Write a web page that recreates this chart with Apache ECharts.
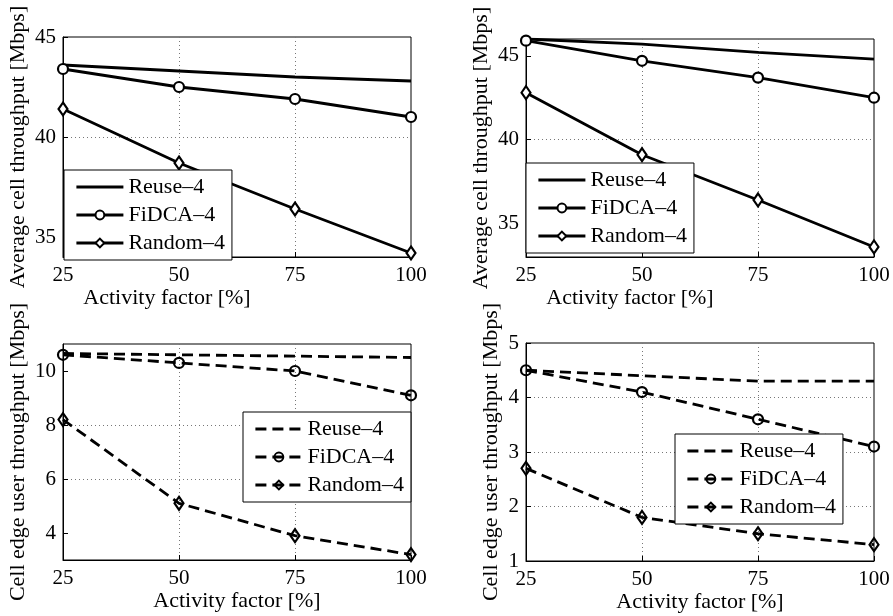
<!DOCTYPE html>
<html lang="en">
<head>
<meta charset="UTF-8">
<title>Activity factor</title>
<script src="https://cdn.jsdelivr.net/npm/echarts@6/dist/echarts.min.js"></script>
</head>
<body style="margin:0;background:#fff">
<div id="main" style="width:893px;height:616px;"></div>
<script type="text/javascript">
// x values (activity factor, %)
var activity = [25, 50, 75, 100];
var names = ['Reuse–4', 'FiDCA–4', 'Random–4'];

// average cell throughput [Mbps], left and right panels
var avgReuseA = [43.6, 43.3, 43.0, 42.8];
var avgFidcaA = [43.4, 42.5, 41.9, 41.0];
var avgRandomA = [41.4, 38.7, 36.4, 34.2];
var avgReuseB = [46.0, 45.7, 45.2, 44.8];
var avgFidcaB = [45.9, 44.7, 43.7, 42.5];
var avgRandomB = [42.8, 39.1, 36.4, 33.6];

// cell edge user throughput [Mbps]
var edgeReuseA = [10.65, 10.6, 10.55, 10.5];
var edgeFidcaA = [10.6, 10.3, 10.0, 9.1];
var edgeRandomA = [8.2, 5.1, 3.9, 3.2];
var edgeReuseB = [4.5, 4.4, 4.3, 4.3];
var edgeFidcaB = [4.5, 4.1, 3.6, 3.1];
var edgeRandomB = [2.7, 1.8, 1.5, 1.3];

// y tick labels
var yTicksAvgA = [35, 40, 45];
var yTicksAvgB = [35, 40, 45];
var yTicksEdgeA = [4, 6, 8, 10];
var yTicksEdgeB = [1, 2, 3, 4, 5];

var FONT = 'Liberation Serif';
var LW = 2.8;

function pairs(ys) {
    return activity.map(function (x, i) { return [x, ys[i]]; });
}

function xAxisFor(g, pad) {
    return {
        type: 'value', gridIndex: g, min: 25, max: 100, interval: 25,
        name: 'Activity factor [%]', nameLocation: 'middle', nameGap: 29,
        nameTextStyle: { fontFamily: FONT, fontSize: 22, color: '#000', padding: pad },
        axisLine: { show: true, onZero: false, lineStyle: { color: '#000', width: 1 } },
        axisTick: { show: true, inside: true, length: 5, lineStyle: { color: '#000' } },
        axisLabel: { fontFamily: FONT, fontSize: 21, color: '#000', margin: 8 },
        splitLine: { show: true, showMinLine: false, showMaxLine: false,
            lineStyle: { color: '#777', width: 1, type: [1, 3] } }
    };
}

function yAxisFor(g, min, max, ticks, label, gap) {
    return {
        type: 'value', gridIndex: g, min: min, max: max,
        name: label, nameLocation: 'middle', nameGap: gap,
        nameTextStyle: { fontFamily: FONT, fontSize: 22, color: '#000' },
        axisLine: { show: true, onZero: false, lineStyle: { color: '#000', width: 1 } },
        axisTick: { show: true, inside: true, length: 5, customValues: ticks, lineStyle: { color: '#000' } },
        axisLabel: { fontFamily: FONT, fontSize: 21, color: '#000', margin: 7, customValues: ticks },
        splitLine: { show: true, showMinLine: false, showMaxLine: false,
            lineStyle: { color: '#777', width: 1, type: [1, 3] } }
    };
}

// solid = top row, dashed = bottom row (names get a trailing space so legends pick the right style)
function makeSeries(g, reuse, fidca, random, dashed) {
    var suffix = dashed ? ' ' : '';
    var lt = dashed ? [11, 6] : 'solid';
    var fill = dashed ? 'transparent' : '#fff';
    return [
        { name: names[0] + suffix, type: 'line', xAxisIndex: g, yAxisIndex: g, data: pairs(reuse),
          symbol: 'none', lineStyle: { color: '#000', width: LW, type: lt }, itemStyle: { color: '#000' } },
        { name: names[1] + suffix, type: 'line', xAxisIndex: g, yAxisIndex: g, data: pairs(fidca),
          symbol: 'circle', symbolSize: 10,
          lineStyle: { color: '#000', width: LW, type: lt },
          itemStyle: { color: fill, borderColor: '#000', borderWidth: 2.2 } },
        { name: names[2] + suffix, type: 'line', xAxisIndex: g, yAxisIndex: g, data: pairs(random),
          symbol: 'diamond', symbolSize: [9, 13],
          lineStyle: { color: '#000', width: LW, type: lt },
          itemStyle: { color: fill, borderColor: '#000', borderWidth: 2.2 } }
    ];
}

function legendFor(left, top, dashed) {
    var suffix = dashed ? ' ' : '';
    return {
        orient: 'vertical', left: left, top: top,
        itemWidth: 47, itemHeight: 11, itemGap: 6,
        padding: [6, 7, 6, 11],
        backgroundColor: '#fff', borderColor: '#000', borderWidth: 1, borderRadius: 0,
        textStyle: { fontFamily: FONT, fontSize: 22, color: '#000' },
        lineStyle: { width: LW },
        formatter: function (n) { return n.trim(); },
        data: [
            { name: names[0] + suffix, itemStyle: { opacity: 0 } },
            { name: names[1] + suffix },
            { name: names[2] + suffix }
        ],
        selectedMode: false
    };
}

var gridStyle = { show: true, borderColor: '#000', borderWidth: 1, backgroundColor: 'transparent', containLabel: false };

var myChart = echarts.init(document.getElementById('main'));
var option = {
    backgroundColor: '#fff',
    animation: false,
    grid: [
        Object.assign({ left: 63, top: 37, width: 348, height: 220 }, gridStyle),
        Object.assign({ left: 526, top: 39, width: 348, height: 218 }, gridStyle),
        Object.assign({ left: 63, top: 344, width: 348, height: 216 }, gridStyle),
        Object.assign({ left: 526, top: 343, width: 348, height: 218 }, gridStyle)
    ],
    xAxis: [
        xAxisFor(0, [0, 140, 0, 0]),
        xAxisFor(1, [0, 140, 0, 0]),
        xAxisFor(2, 0),
        xAxisFor(3, 0)
    ],
    yAxis: [
        yAxisFor(0, 34, 45, yTicksAvgA, 'Average cell throughput [Mbps]', 34),
        yAxisFor(1, 33, 46, yTicksAvgB, 'Average cell throughput [Mbps]', 34),
        yAxisFor(2, 3, 11, yTicksEdgeA, 'Cell edge user throughput [Mbps]', 34),
        yAxisFor(3, 1, 5, yTicksEdgeB, 'Cell edge user throughput [Mbps]', 24)
    ],
    legend: [
        legendFor(64, 170, false),
        legendFor(526, 163, false),
        legendFor(243, 412, true),
        legendFor(675, 434, true)
    ],
    series: [].concat(
        makeSeries(0, avgReuseA, avgFidcaA, avgRandomA, false),
        makeSeries(1, avgReuseB, avgFidcaB, avgRandomB, false),
        makeSeries(2, edgeReuseA, edgeFidcaA, edgeRandomA, true),
        makeSeries(3, edgeReuseB, edgeFidcaB, edgeRandomB, true)
    )
};
myChart.setOption(option);
</script>
</body>
</html>
